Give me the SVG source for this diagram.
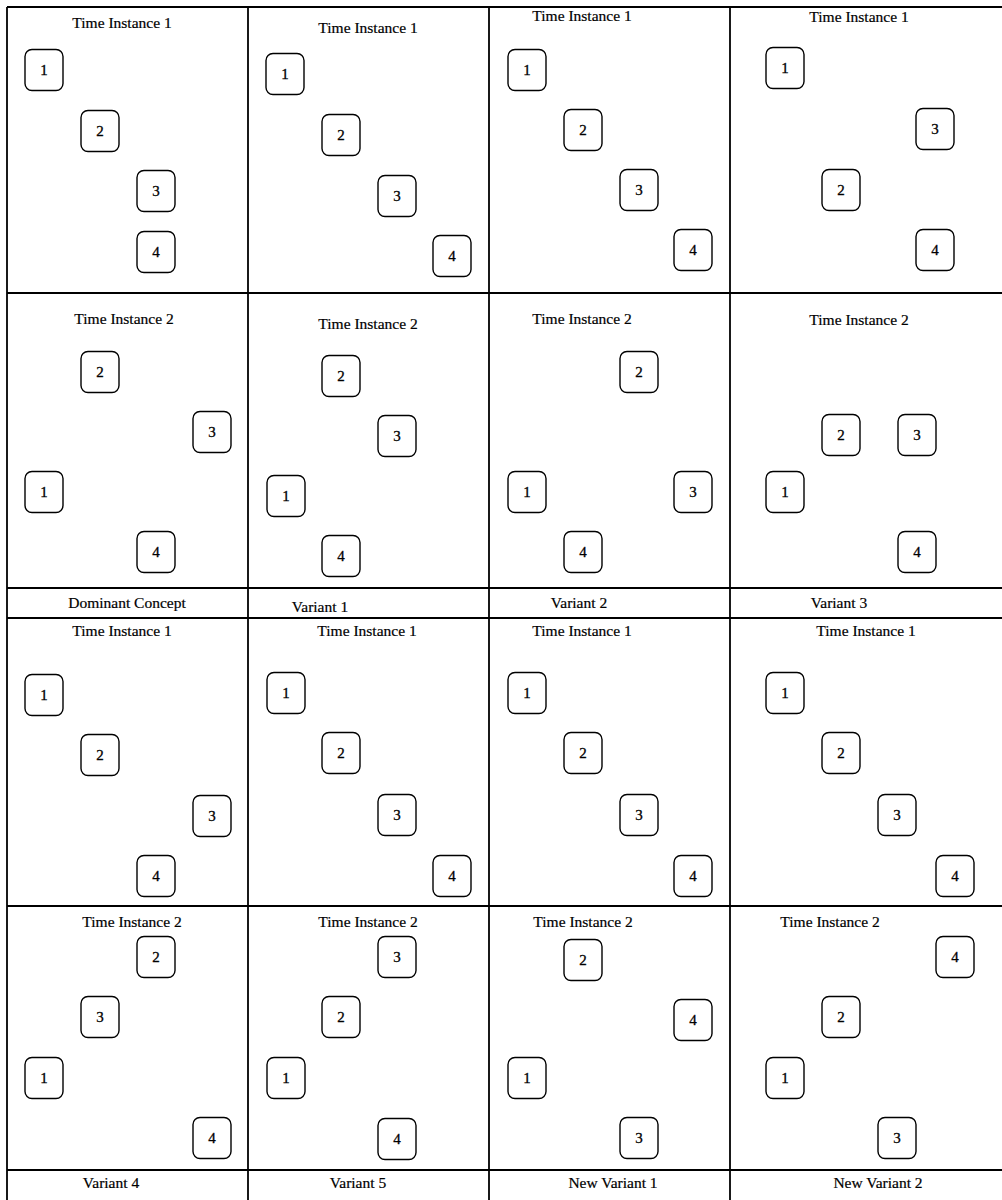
<svg xmlns="http://www.w3.org/2000/svg" width="1002" height="1200" viewBox="0 0 1002 1200">
<style>
.grid{stroke:#000;stroke-width:1.8;fill:none}
.nb{fill:#fff;stroke:#000;stroke-width:1.4}
.box text{font-family:"Liberation Serif",serif;font-size:15px;text-anchor:middle;stroke:#000;stroke-width:0.3}
.t{font-family:"Liberation Serif",serif;font-size:15.5px;text-anchor:middle;stroke:#000;stroke-width:0.2}
</style>
<rect width="1002" height="1200" fill="#fff"/>
<g id="grid" class="grid">
<line x1="7" y1="7" x2="1002" y2="7"/>
<line x1="7" y1="293" x2="1002" y2="293"/>
<line x1="7" y1="588" x2="1002" y2="588"/>
<line x1="7" y1="618" x2="1002" y2="618"/>
<line x1="7" y1="906" x2="1002" y2="906"/>
<line x1="7" y1="1170" x2="1002" y2="1170"/>
<line x1="7" y1="7" x2="7" y2="1200"/>
<line x1="248" y1="7" x2="248" y2="1200"/>
<line x1="489" y1="7" x2="489" y2="1200"/>
<line x1="730" y1="7" x2="730" y2="1200"/>
</g>
<g id="titles">
<text class="t" x="122" y="28">Time Instance 1</text>
<text class="t" x="368" y="33">Time Instance 1</text>
<text class="t" x="582" y="21">Time Instance 1</text>
<text class="t" x="859" y="22">Time Instance 1</text>
<text class="t" x="124" y="324">Time Instance 2</text>
<text class="t" x="368" y="329">Time Instance 2</text>
<text class="t" x="582" y="324">Time Instance 2</text>
<text class="t" x="859" y="325">Time Instance 2</text>
<text class="t" x="127" y="608">Dominant Concept</text>
<text class="t" x="320" y="612">Variant 1</text>
<text class="t" x="579" y="608">Variant 2</text>
<text class="t" x="839" y="608">Variant 3</text>
<text class="t" x="122" y="636">Time Instance 1</text>
<text class="t" x="367" y="636">Time Instance 1</text>
<text class="t" x="582" y="636">Time Instance 1</text>
<text class="t" x="866" y="636">Time Instance 1</text>
<text class="t" x="132" y="927">Time Instance 2</text>
<text class="t" x="368" y="927">Time Instance 2</text>
<text class="t" x="583" y="927">Time Instance 2</text>
<text class="t" x="830" y="927">Time Instance 2</text>
<text class="t" x="111" y="1188">Variant 4</text>
<text class="t" x="358" y="1188">Variant 5</text>
<text class="t" x="613" y="1188">New Variant 1</text>
<text class="t" x="878" y="1188">New Variant 2</text>
</g>
<defs>
<rect id="b" class="nb" x="-19" y="-20.5" width="38" height="41" rx="7" fill="#fff" stroke="#000" stroke-width="1.4"/>
</defs>
<g id="r1a1" class="box" transform="translate(44,70)"><use href="#b"/><text y="5">1</text></g>
<g id="r1a2" class="box" transform="translate(100,131)"><use href="#b"/><text y="5">2</text></g>
<g id="r1a3" class="box" transform="translate(156,191)"><use href="#b"/><text y="5">3</text></g>
<g id="r1a4" class="box" transform="translate(156,252)"><use href="#b"/><text y="5">4</text></g>
<g id="r1b1" class="box" transform="translate(285,74)"><use href="#b"/><text y="5">1</text></g>
<g id="r1b2" class="box" transform="translate(341,135)"><use href="#b"/><text y="5">2</text></g>
<g id="r1b3" class="box" transform="translate(397,196)"><use href="#b"/><text y="5">3</text></g>
<g id="r1b4" class="box" transform="translate(452,256)"><use href="#b"/><text y="5">4</text></g>
<g id="r1c1" class="box" transform="translate(527,70)"><use href="#b"/><text y="5">1</text></g>
<g id="r1c2" class="box" transform="translate(583,130)"><use href="#b"/><text y="5">2</text></g>
<g id="r1c3" class="box" transform="translate(639,190)"><use href="#b"/><text y="5">3</text></g>
<g id="r1c4" class="box" transform="translate(693,250)"><use href="#b"/><text y="5">4</text></g>
<g id="r1d1" class="box" transform="translate(785,68)"><use href="#b"/><text y="5">1</text></g>
<g id="r1d3" class="box" transform="translate(935,129)"><use href="#b"/><text y="5">3</text></g>
<g id="r1d2" class="box" transform="translate(841,190)"><use href="#b"/><text y="5">2</text></g>
<g id="r1d4" class="box" transform="translate(935,250)"><use href="#b"/><text y="5">4</text></g>
<g id="r2a2" class="box" transform="translate(100,372)"><use href="#b"/><text y="5">2</text></g>
<g id="r2a3" class="box" transform="translate(212,432)"><use href="#b"/><text y="5">3</text></g>
<g id="r2a1" class="box" transform="translate(44,492)"><use href="#b"/><text y="5">1</text></g>
<g id="r2a4" class="box" transform="translate(156,552)"><use href="#b"/><text y="5">4</text></g>
<g id="r2b2" class="box" transform="translate(341,376)"><use href="#b"/><text y="5">2</text></g>
<g id="r2b3" class="box" transform="translate(397,436)"><use href="#b"/><text y="5">3</text></g>
<g id="r2b1" class="box" transform="translate(286,496)"><use href="#b"/><text y="5">1</text></g>
<g id="r2b4" class="box" transform="translate(341,556)"><use href="#b"/><text y="5">4</text></g>
<g id="r2c2" class="box" transform="translate(639,372)"><use href="#b"/><text y="5">2</text></g>
<g id="r2c1" class="box" transform="translate(527,492)"><use href="#b"/><text y="5">1</text></g>
<g id="r2c3" class="box" transform="translate(693,492)"><use href="#b"/><text y="5">3</text></g>
<g id="r2c4" class="box" transform="translate(583,552)"><use href="#b"/><text y="5">4</text></g>
<g id="r2d2" class="box" transform="translate(841,435)"><use href="#b"/><text y="5">2</text></g>
<g id="r2d3" class="box" transform="translate(917,435)"><use href="#b"/><text y="5">3</text></g>
<g id="r2d1" class="box" transform="translate(785,492)"><use href="#b"/><text y="5">1</text></g>
<g id="r2d4" class="box" transform="translate(917,552)"><use href="#b"/><text y="5">4</text></g>
<g id="r3a1" class="box" transform="translate(44,695)"><use href="#b"/><text y="5">1</text></g>
<g id="r3a2" class="box" transform="translate(100,755)"><use href="#b"/><text y="5">2</text></g>
<g id="r3a3" class="box" transform="translate(212,816)"><use href="#b"/><text y="5">3</text></g>
<g id="r3a4" class="box" transform="translate(156,876)"><use href="#b"/><text y="5">4</text></g>
<g id="r3b1" class="box" transform="translate(286,693)"><use href="#b"/><text y="5">1</text></g>
<g id="r3b2" class="box" transform="translate(341,753)"><use href="#b"/><text y="5">2</text></g>
<g id="r3b3" class="box" transform="translate(397,815)"><use href="#b"/><text y="5">3</text></g>
<g id="r3b4" class="box" transform="translate(452,876)"><use href="#b"/><text y="5">4</text></g>
<g id="r3c1" class="box" transform="translate(527,693)"><use href="#b"/><text y="5">1</text></g>
<g id="r3c2" class="box" transform="translate(583,753)"><use href="#b"/><text y="5">2</text></g>
<g id="r3c3" class="box" transform="translate(639,815)"><use href="#b"/><text y="5">3</text></g>
<g id="r3c4" class="box" transform="translate(693,876)"><use href="#b"/><text y="5">4</text></g>
<g id="r3d1" class="box" transform="translate(785,693)"><use href="#b"/><text y="5">1</text></g>
<g id="r3d2" class="box" transform="translate(841,753)"><use href="#b"/><text y="5">2</text></g>
<g id="r3d3" class="box" transform="translate(897,815)"><use href="#b"/><text y="5">3</text></g>
<g id="r3d4" class="box" transform="translate(955,876)"><use href="#b"/><text y="5">4</text></g>
<g id="r4a2" class="box" transform="translate(156,957)"><use href="#b"/><text y="5">2</text></g>
<g id="r4a3" class="box" transform="translate(100,1017)"><use href="#b"/><text y="5">3</text></g>
<g id="r4a1" class="box" transform="translate(44,1078)"><use href="#b"/><text y="5">1</text></g>
<g id="r4a4" class="box" transform="translate(212,1138)"><use href="#b"/><text y="5">4</text></g>
<g id="r4b3" class="box" transform="translate(397,957)"><use href="#b"/><text y="5">3</text></g>
<g id="r4b2" class="box" transform="translate(341,1017)"><use href="#b"/><text y="5">2</text></g>
<g id="r4b1" class="box" transform="translate(286,1078)"><use href="#b"/><text y="5">1</text></g>
<g id="r4b4" class="box" transform="translate(397,1139)"><use href="#b"/><text y="5">4</text></g>
<g id="r4c2" class="box" transform="translate(583,960)"><use href="#b"/><text y="5">2</text></g>
<g id="r4c4" class="box" transform="translate(693,1020)"><use href="#b"/><text y="5">4</text></g>
<g id="r4c1" class="box" transform="translate(527,1078)"><use href="#b"/><text y="5">1</text></g>
<g id="r4c3" class="box" transform="translate(639,1138)"><use href="#b"/><text y="5">3</text></g>
<g id="r4d4" class="box" transform="translate(955,957)"><use href="#b"/><text y="5">4</text></g>
<g id="r4d2" class="box" transform="translate(841,1017)"><use href="#b"/><text y="5">2</text></g>
<g id="r4d1" class="box" transform="translate(785,1078)"><use href="#b"/><text y="5">1</text></g>
<g id="r4d3" class="box" transform="translate(897,1138)"><use href="#b"/><text y="5">3</text></g>
</svg>
